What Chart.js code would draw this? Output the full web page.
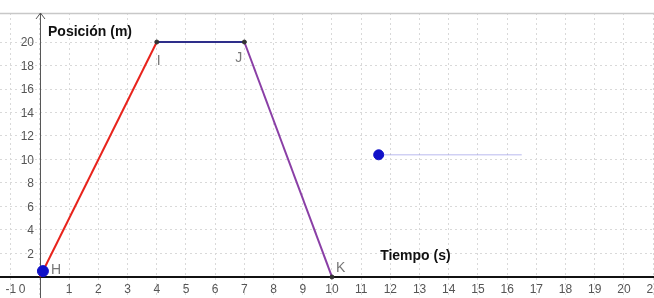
<!DOCTYPE html>
<html>
<head>
<meta charset="utf-8">
<script src="https://cdn.jsdelivr.net/npm/chart.js@4/dist/chart.umd.min.js"></script>
<style>
  html, body { margin: 0; padding: 0; background: #fff; }
  #wrap { width: 654px; height: 298px; }
</style>
</head>
<body>
<div id="wrap"><canvas id="grafica" width="654" height="298"></canvas></div>
<script>
// datos del movimiento
var tiempo   = [0, 4, 7, 10];
var posicion = [0, 20, 20, 0];
var puntoH   = { x: 0.1, y: 0.5 };
var deslizador = { x: 11.6, y: 10.4, fin: 16.5 };
var xTicks = [-1, 0, 1, 2, 3, 4, 5, 6, 7, 8, 9, 10, 11, 12, 13, 14, 15, 16, 17, 18, 19, 20, 21];
var yTicks = [2, 4, 6, 8, 10, 12, 14, 16, 18, 20];

function tramo(i) {
  return [{ x: tiempo[i], y: posicion[i] }, { x: tiempo[i + 1], y: posicion[i + 1] }];
}

var colores = ['#e8231c', '#2e2e8a', '#8a3fa6'];

var datasets = [];
for (var i = 0; i < tiempo.length - 1; i++) {
  datasets.push({
    data: tramo(i),
    showLine: true,
    borderColor: colores[i],
    borderWidth: 2,
    pointRadius: 0,
    order: 3
  });
}
// vertices I, J, K
datasets.push({
  data: tiempo.slice(1).map(function (t, k) { return { x: t, y: posicion[k + 1] }; }),
  showLine: false,
  pointRadius: 2,
  backgroundColor: '#333',
  borderColor: '#333',
  order: 2
});
// deslizador
datasets.push({
  data: [{ x: deslizador.x, y: deslizador.y }, { x: deslizador.fin, y: deslizador.y }],
  showLine: true,
  borderColor: 'rgba(150,150,230,0.45)',
  borderWidth: 1.5,
  pointRadius: 0,
  order: 3
});
datasets.push({
  data: [{ x: deslizador.x, y: deslizador.y }],
  pointRadius: 5,
  backgroundColor: '#1010c8',
  borderColor: '#1010c8',
  order: 0
});
// punto H
datasets.push({
  data: [puntoH],
  pointRadius: 5.5,
  backgroundColor: '#1010c8',
  borderColor: '#1010c8',
  order: 0
});

var ejes = {
  id: 'ejes',
  beforeDatasetsDraw: function (chart) {
    var c = chart.ctx, sx = chart.scales.x, sy = chart.scales.y, a = chart.chartArea;
    var x0 = sx.getPixelForValue(0), y0 = sy.getPixelForValue(0);
    c.save();
    // borde superior
    c.strokeStyle = '#c8c8c8';
    c.lineWidth = 1.5;
    c.beginPath(); c.moveTo(a.left, a.top + 0.5); c.lineTo(a.right, a.top + 0.5); c.stroke();
    // eje y con flecha
    c.strokeStyle = '#555';
    c.lineWidth = 1;
    c.beginPath(); c.moveTo(x0 + 0.5, a.bottom); c.lineTo(x0 + 0.5, a.top); c.stroke();
    c.beginPath(); c.moveTo(x0 - 4, a.top + 6); c.lineTo(x0 + 0.5, a.top); c.lineTo(x0 + 5, a.top + 6); c.stroke();
    // eje x
    c.strokeStyle = '#111';
    c.lineWidth = 2;
    c.beginPath(); c.moveTo(a.left, y0); c.lineTo(a.right, y0); c.stroke();
    c.restore();
  },
  afterDraw: function (chart) {
    var c = chart.ctx, sx = chart.scales.x, sy = chart.scales.y, a = chart.chartArea;
    var x0 = sx.getPixelForValue(0), y0 = sy.getPixelForValue(0);
    c.save();
    // etiquetas de ticks
    c.fillStyle = '#555';
    c.font = '12px "Liberation Sans", Arial, sans-serif';
    c.textBaseline = 'middle';
    c.textAlign = 'right';
    yTicks.forEach(function (v) { c.fillText(String(v), x0 - 6, sy.getPixelForValue(v) + 1); });
    c.textAlign = 'center';
    xTicks.forEach(function (v) {
      var px = sx.getPixelForValue(v);
      if (v === 0) px -= 18;
      c.fillText(String(v), px, y0 + 13);
    });
    // nombres de puntos
    c.fillStyle = '#777';
    c.font = '14px "Liberation Sans", Arial, sans-serif';
    c.textAlign = 'left';
    c.fillText('I', sx.getPixelForValue(tiempo[1]) + 0, sy.getPixelForValue(posicion[1]) + 19);
    c.fillText('J', sx.getPixelForValue(tiempo[2]) - 9, sy.getPixelForValue(posicion[2]) + 16);
    c.fillText('K', sx.getPixelForValue(tiempo[3]) + 4, sy.getPixelForValue(posicion[3]) - 9);
    c.fillText('H', sx.getPixelForValue(puntoH.x) + 8, sy.getPixelForValue(puntoH.y) - 1);
    // titulos de ejes
    c.fillStyle = '#111';
    c.font = 'bold 14px "Liberation Sans", Arial, sans-serif';
    c.fillText('Posición (m)', x0 + 8, a.top + 19);
    c.fillText('Tiempo (s)', sx.getPixelForValue(11.65), sy.getPixelForValue(1.8));
    c.restore();
  }
};

var ctx = document.getElementById('grafica');
var grafica = new Chart(ctx, {
  type: 'scatter',
  data: { datasets: datasets },
  options: {
    responsive: false,
    animation: false,
    layout: { autoPadding: false, padding: { top: 13, left: 0, right: 0, bottom: 0 } },
    plugins: { legend: { display: false }, tooltip: { enabled: false } },
    scales: {
      x: {
        type: 'linear',
        min: -1.37,
        max: 21.03,
        afterBuildTicks: function (s) { s.ticks = xTicks.map(function (v) { return { value: v }; }); },
        afterFit: function (s) { s.height = 0; },
        ticks: { display: false },
        grid: { color: '#d9d9d9', drawTicks: false, lineWidth: 1 },
        border: { display: false, dash: [2, 3] }
      },
      y: {
        type: 'linear',
        min: -1.79,
        max: 22.47,
        afterBuildTicks: function (s) { s.ticks = yTicks.map(function (v) { return { value: v }; }); },
        afterFit: function (s) { s.width = 0; },
        ticks: { display: false },
        grid: { color: '#d9d9d9', drawTicks: false, lineWidth: 1 },
        border: { display: false, dash: [2, 3] }
      }
    }
  },
  plugins: [ejes]
});
</script>
</body>
</html>
